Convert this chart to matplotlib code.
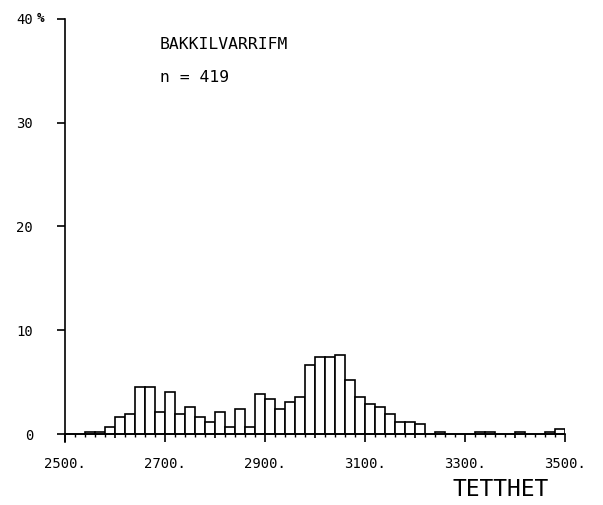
import matplotlib
matplotlib.use("Agg")
import matplotlib.pyplot as plt
import numpy as np

# Density classes (kg/m3), 20 wide, from 2500 to 3500
bin_starts = list(range(2500, 3500, 20))
counts = [0, 0, 1, 1, 3, 7, 8, 19, 19, 9,
          17, 8, 11, 7, 5, 9, 3, 10, 3, 16,
          14, 10, 13, 15, 28, 31, 31, 32, 22, 15,
          12, 11, 8, 5, 5, 4, 0, 1, 0, 0,
          0, 1, 1, 0, 0, 1, 0, 0, 1, 2]
n_samples = 419
title = "BAKKILVARRIFM"
xlabel = "TETTHET"
x_major = [2500, 2600, 2700, 2800, 2900, 3000, 3100, 3200, 3300, 3400, 3500]
x_labelled = [2500, 2700, 2900, 3100, 3300, 3500]
y_ticks = [0, 10, 20, 30, 40]
y_labels = ["0", "10", "20", "30", "40"]
y_unit = "%"

percent = np.array(counts) / n_samples * 100.0

W, H = 603, 505
fig = plt.figure(figsize=(W / 100, H / 100), dpi=100)
fig.patch.set_facecolor("white")

ymin = -0.8
x0, x1 = 65, 565
y_zero, y_top = 434, 19
px_per_unit = (y_zero - y_top) / 40.0
y_bot = y_zero + (-ymin) * px_per_unit
ax = fig.add_axes([x0 / W, (H - y_bot) / H, (x1 - x0) / W, (y_bot - y_top) / H])
ax.set_xlim(2500, 3500)
ax.set_ylim(ymin, 40)

ax.bar(bin_starts, percent, width=20, align="edge",
       facecolor="white", edgecolor="black", linewidth=1.2, zorder=2)

for s in ["top", "right"]:
    ax.spines[s].set_visible(False)
ax.spines["bottom"].set_position(("data", 0))
ax.spines["bottom"].set_bounds(2500, 3500)
for s in ["left", "bottom"]:
    ax.spines[s].set_linewidth(1.2)
    ax.spines[s].set_zorder(3)

plot_font = "DejaVu Sans Mono"

ax.set_xticks(x_major)
ax.set_xticklabels([f"{v}." if v in x_labelled else "" for v in x_major],
                   fontsize=10, family=plot_font)
ax.set_xticks(bin_starts, minor=True)
ax.tick_params(axis="x", which="major", direction="out", width=1.2, pad=13)
ax.tick_params(axis="x", which="minor", direction="out", length=2, width=1)
for v, t in zip(x_major, ax.xaxis.get_major_ticks()):
    t.tick1line.set_markersize(6 if v in x_labelled else 3)

ax.set_yticks(y_ticks)
ax.set_yticklabels(y_labels, fontsize=10, family=plot_font)
ax.tick_params(axis="y", direction="out", length=6, width=1.2, pad=17)
fig.text(37 / W, 1 - 18 / H, y_unit, fontsize=9, family=plot_font,
         ha="left", va="center", fontweight="bold")

fig.text(160 / W, 1 - 49 / H, title, fontsize=11.8, family=plot_font,
         ha="left", va="baseline")
fig.text(160 / W, 1 - 82 / H, f"n = {n_samples}", fontsize=11.8,
         family=plot_font, ha="left", va="baseline")
fig.text(501 / W, 1 - 496 / H, xlabel, fontsize=16.5, family=plot_font,
         ha="center", va="baseline")

fig.savefig("out.png", dpi=100, facecolor="white")
